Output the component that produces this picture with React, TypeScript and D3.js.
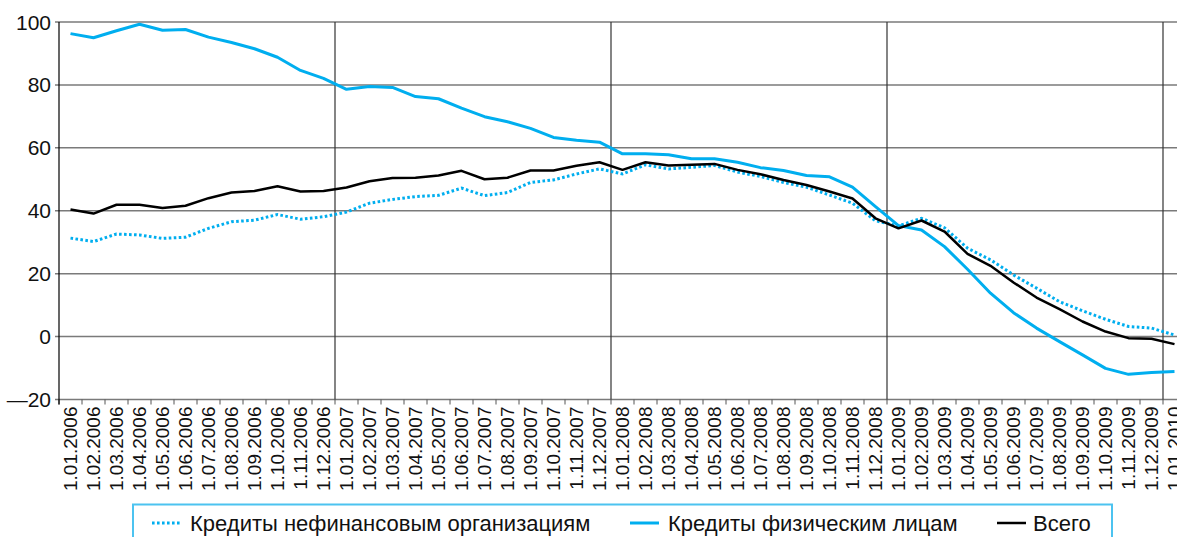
import React from "react";
import * as d3 from "d3";

const categories: string[] = [
  "1.01.2006","1.02.2006","1.03.2006","1.04.2006","1.05.2006","1.06.2006","1.07.2006","1.08.2006","1.09.2006","1.10.2006","1.11.2006","1.12.2006",
  "1.01.2007","1.02.2007","1.03.2007","1.04.2007","1.05.2007","1.06.2007","1.07.2007","1.08.2007","1.09.2007","1.10.2007","1.11.2007","1.12.2007",
  "1.01.2008","1.02.2008","1.03.2008","1.04.2008","1.05.2008","1.06.2008","1.07.2008","1.08.2008","1.09.2008","1.10.2008","1.11.2008","1.12.2008",
  "1.01.2009","1.02.2009","1.03.2009","1.04.2009","1.05.2009","1.06.2009","1.07.2009","1.08.2009","1.09.2009","1.10.2009","1.11.2009","1.12.2009",
  "1.01.2010",
];

const corporate: number[] = [
  31.3, 30.2, 32.6, 32.3, 31.2, 31.6, 34.4, 36.5, 37.0, 38.8, 37.3, 38.1,
  39.6, 42.4, 43.6, 44.5, 44.9, 47.2, 44.8, 45.8, 49.0, 49.8, 51.7, 53.3,
  51.7, 54.6, 53.3, 53.8, 54.4, 52.3, 50.9, 49.0, 47.5, 45.0, 42.4, 36.8,
  35.2, 37.6, 34.6, 28.1, 24.4, 19.6, 15.4, 11.1, 8.2, 5.5, 3.2, 2.7,
  0.5,
];

const households: number[] = [
  96.3, 95.0, 97.2, 99.3, 97.4, 97.6, 95.2, 93.5, 91.5, 88.8, 84.6, 82.1,
  78.6, 79.5, 79.2, 76.3, 75.6, 72.6, 69.9, 68.3, 66.2, 63.3, 62.4, 61.8,
  58.1, 58.1, 57.8, 56.5, 56.5, 55.4, 53.7, 52.8, 51.2, 50.8, 47.5, 41.3,
  35.3, 33.9, 28.6, 21.4, 13.8, 7.6, 2.7, -1.6, -5.8, -10.1, -12.0, -11.4,
  -11.1,
];

const total: number[] = [
  40.4, 39.1, 41.9, 41.9, 40.9, 41.6, 44.0, 45.8, 46.3, 47.8, 46.1, 46.3,
  47.4, 49.4, 50.4, 50.5, 51.2, 52.7, 50.0, 50.5, 52.8, 52.8, 54.3, 55.4,
  53.0, 55.4, 54.4, 54.6, 54.9, 53.0, 51.6, 49.8, 48.2, 46.1, 43.9, 37.6,
  34.4, 36.9, 33.4, 26.3, 22.5, 17.2, 12.4, 8.7, 4.8, 1.6, -0.5, -0.7,
  -2.4,
];

const yTicks: number[] = [-20, 0, 20, 40, 60, 80, 100];
const yTickLabels: string[] = ["—20", "0", "20", "40", "60", "80", "100"];

const legendLabels: string[] = [
  "Кредиты нефинансовым организациям",
  "Кредиты физическим лицам",
  "Всего",
];

const CYAN = "#00AEEF";
const FONT = "'Liberation Sans', Arial, Helvetica, sans-serif";

export default function App() {
  const W = 1177;
  const H = 537;
  const left = 59;
  const band = 23;
  const top = 22;
  const bottom = 399.5;

  const x = d3
    .scaleBand<string>()
    .domain(categories)
    .range([left, left + categories.length * band])
    .paddingInner(0)
    .paddingOuter(0);
  const y = d3.scaleLinear().domain([-20, 100]).range([bottom, top]);
  const cx = (i: number) => (x(categories[i]) as number) + x.bandwidth() / 2;

  const line = d3
    .line<number>()
    .x((_, i) => cx(i))
    .y((d) => y(d));

  const boundaries = categories.map((c) => x(c) as number).concat([left + categories.length * band]);
  const yearLines = categories
    .filter((c, i) => i > 0 && c.startsWith("1.01."))
    .map((c) => x(c) as number);

  const legendItems = [
    { label: legendLabels[0], sx: 152, tx: 190, color: CYAN, dash: "2.6,2.4", w: 3 },
    { label: legendLabels[1], sx: 630, tx: 668, color: CYAN, dash: undefined, w: 3 },
    { label: legendLabels[2], sx: 997, tx: 1033, color: "#000", dash: undefined, w: 2.5 },
  ];

  return (
    <svg
      width={W}
      height={H}
      style={{ position: "absolute", left: 0, top: 0, background: "#fff", display: "block" }}
      fontFamily={FONT}
    >
      {yTicks.map((t) => (
        <line key={"g" + t} x1={left - 4} x2={W + 20} y1={y(t)} y2={y(t)} stroke="#7a7a7a" strokeWidth={1.5} />
      ))}
      {yearLines.map((xv, i) => (
        <line key={"v" + i} x1={xv} x2={xv} y1={top} y2={bottom} stroke="#333" strokeWidth={1.2} />
      ))}
      {boundaries.map((b, i) => (
        <line key={"t" + i} x1={b} x2={b} y1={bottom} y2={bottom + 5} stroke="#555" strokeWidth={1} />
      ))}
      <line x1={left} x2={left} y1={top} y2={bottom + 5} stroke="#000" strokeWidth={1.2} />
      {yTicks.map((t, i) => (
        <text key={"yl" + t} x={51} y={y(t)} dy="0.36em" textAnchor="end" fontSize={21} fill="#111">
          {yTickLabels[i]}
        </text>
      ))}
      {categories.map((c, i) => (
        <text
          key={"xl" + c}
          transform={`translate(${cx(i) + 6.5},${bottom + 7}) rotate(-90)`}
          textAnchor="end"
          fontSize={19}
          fill="#111"
        >
          {c}
        </text>
      ))}
      <path d={line(households) || ""} fill="none" stroke={CYAN} strokeWidth={3} strokeLinejoin="round" />
      <path d={line(corporate) || ""} fill="none" stroke={CYAN} strokeWidth={3} strokeDasharray="2.6,2.4" />
      <path d={line(total) || ""} fill="none" stroke="#000" strokeWidth={2.5} strokeLinejoin="round" />
      <rect x={133} y={504.5} width={979} height={50} fill="#fff" stroke="#4CC3F0" strokeWidth={2} />
      {legendItems.map((it, i) => (
        <g key={"lg" + i}>
          <line x1={it.sx} x2={it.sx + 29} y1={523} y2={523} stroke={it.color} strokeWidth={it.w} strokeDasharray={it.dash} />
          <text x={it.tx} y={531} fontSize={22} fill="#111">
            {it.label}
          </text>
        </g>
      ))}
    </svg>
  );
}
